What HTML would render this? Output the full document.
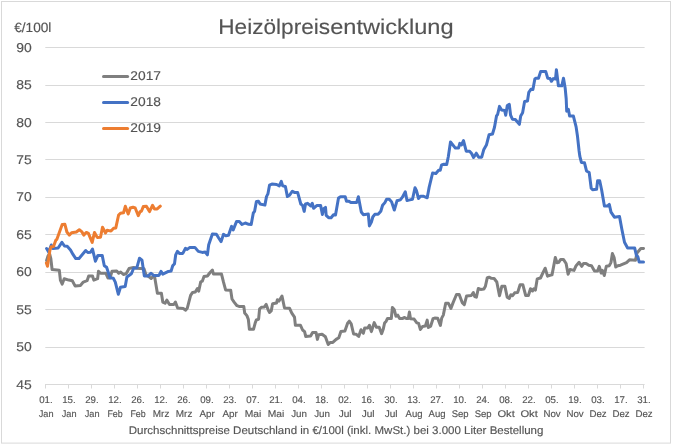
<!DOCTYPE html>
<html><head><meta charset="utf-8"><title>Heizölpreisentwicklung</title>
<style>
html,body{margin:0;padding:0;background:#fff;}
svg{display:block;}
text{font-family:"Liberation Sans",sans-serif;fill:#545454;stroke:#595959;stroke-width:0.15px;text-rendering:geometricPrecision;}
svg{will-change:transform;}
</style></head><body>
<svg width="673" height="446" viewBox="0 0 673 446">
<rect x="0" y="0" width="673" height="446" fill="#fff"/>
<rect x="1.5" y="1.5" width="669" height="441.6" fill="#fff" stroke="#d9d9d9" stroke-width="1"/>

<g stroke="#d9d9d9" stroke-width="1" fill="none">
<line x1="45.3" y1="47.5" x2="644.6" y2="47.5"/>
<line x1="45.3" y1="85.5" x2="644.6" y2="85.5"/>
<line x1="45.3" y1="122.5" x2="644.6" y2="122.5"/>
<line x1="45.3" y1="159.5" x2="644.6" y2="159.5"/>
<line x1="45.3" y1="197.5" x2="644.6" y2="197.5"/>
<line x1="45.3" y1="234.5" x2="644.6" y2="234.5"/>
<line x1="45.3" y1="272.5" x2="644.6" y2="272.5"/>
<line x1="45.3" y1="309.5" x2="644.6" y2="309.5"/>
<line x1="45.3" y1="347.5" x2="644.6" y2="347.5"/>
<line x1="45.3" y1="384.5" x2="644.6" y2="384.5"/>
<line x1="45.5" y1="384" x2="45.5" y2="388.5"/>
<line x1="68.5" y1="384" x2="68.5" y2="388.5"/>
<line x1="91.5" y1="384" x2="91.5" y2="388.5"/>
<line x1="114.5" y1="384" x2="114.5" y2="388.5"/>
<line x1="137.5" y1="384" x2="137.5" y2="388.5"/>
<line x1="160.5" y1="384" x2="160.5" y2="388.5"/>
<line x1="183.5" y1="384" x2="183.5" y2="388.5"/>
<line x1="206.5" y1="384" x2="206.5" y2="388.5"/>
<line x1="229.5" y1="384" x2="229.5" y2="388.5"/>
<line x1="252.5" y1="384" x2="252.5" y2="388.5"/>
<line x1="275.5" y1="384" x2="275.5" y2="388.5"/>
<line x1="298.5" y1="384" x2="298.5" y2="388.5"/>
<line x1="321.5" y1="384" x2="321.5" y2="388.5"/>
<line x1="344.5" y1="384" x2="344.5" y2="388.5"/>
<line x1="367.5" y1="384" x2="367.5" y2="388.5"/>
<line x1="390.5" y1="384" x2="390.5" y2="388.5"/>
<line x1="413.5" y1="384" x2="413.5" y2="388.5"/>
<line x1="436.5" y1="384" x2="436.5" y2="388.5"/>
<line x1="459.5" y1="384" x2="459.5" y2="388.5"/>
<line x1="482.5" y1="384" x2="482.5" y2="388.5"/>
<line x1="505.5" y1="384" x2="505.5" y2="388.5"/>
<line x1="528.5" y1="384" x2="528.5" y2="388.5"/>
<line x1="551.5" y1="384" x2="551.5" y2="388.5"/>
<line x1="574.5" y1="384" x2="574.5" y2="388.5"/>
<line x1="597.5" y1="384" x2="597.5" y2="388.5"/>
<line x1="620.5" y1="384" x2="620.5" y2="388.5"/>
<line x1="643.5" y1="384" x2="643.5" y2="388.5"/>
</g>
<g font-size="12.8px">
<text x="16.3" y="52" textLength="15.5" lengthAdjust="spacingAndGlyphs">90</text>
<text x="16.3" y="89" textLength="15.5" lengthAdjust="spacingAndGlyphs">85</text>
<text x="16.3" y="127" textLength="15.5" lengthAdjust="spacingAndGlyphs">80</text>
<text x="16.3" y="164" textLength="15.5" lengthAdjust="spacingAndGlyphs">75</text>
<text x="16.3" y="201" textLength="15.5" lengthAdjust="spacingAndGlyphs">70</text>
<text x="16.3" y="239" textLength="15.5" lengthAdjust="spacingAndGlyphs">65</text>
<text x="16.3" y="276" textLength="15.5" lengthAdjust="spacingAndGlyphs">60</text>
<text x="16.3" y="314" textLength="15.5" lengthAdjust="spacingAndGlyphs">55</text>
<text x="16.3" y="351" textLength="15.5" lengthAdjust="spacingAndGlyphs">50</text>
<text x="16.3" y="389" textLength="15.5" lengthAdjust="spacingAndGlyphs">45</text>
</g>
<text x="14.2" y="32.4" font-size="13.4px" textLength="37.2" lengthAdjust="spacingAndGlyphs">€/100l</text>
<text x="218.3" y="33.7" font-size="21.4px" fill="#5f5f5f" stroke="none" textLength="111.8" lengthAdjust="spacingAndGlyphs">Heizölpreis</text>
<text x="330.2" y="33.7" font-size="21.4px" fill="#5f5f5f" stroke="none" textLength="123.4" lengthAdjust="spacingAndGlyphs">entwicklung</text>
<g font-size="9.7px" text-anchor="middle">
<text transform="translate(45.9,402.7) scale(1.0,1)">01.</text><text x="46.1" y="416.7" textLength="14.8" lengthAdjust="spacingAndGlyphs">Jan</text>
<text transform="translate(68.9,402.7) scale(1.0,1)">15.</text><text x="69.1" y="416.7" textLength="14.8" lengthAdjust="spacingAndGlyphs">Jan</text>
<text transform="translate(91.9,402.7) scale(1.0,1)">29.</text><text x="92.1" y="416.7" textLength="14.8" lengthAdjust="spacingAndGlyphs">Jan</text>
<text transform="translate(114.9,402.7) scale(1.0,1)">12.</text><text x="115.1" y="416.7" textLength="15.3" lengthAdjust="spacingAndGlyphs">Feb</text>
<text transform="translate(137.9,402.7) scale(1.0,1)">26.</text><text x="138.1" y="416.7" textLength="15.3" lengthAdjust="spacingAndGlyphs">Feb</text>
<text transform="translate(160.9,402.7) scale(1.0,1)">12.</text><text x="161.1" y="416.7" textLength="16.6" lengthAdjust="spacingAndGlyphs">Mrz</text>
<text transform="translate(183.9,402.7) scale(1.0,1)">26.</text><text x="184.1" y="416.7" textLength="16.6" lengthAdjust="spacingAndGlyphs">Mrz</text>
<text transform="translate(206.9,402.7) scale(1.0,1)">09.</text><text x="207.1" y="416.7" textLength="15.4" lengthAdjust="spacingAndGlyphs">Apr</text>
<text transform="translate(229.9,402.7) scale(1.0,1)">23.</text><text x="230.1" y="416.7" textLength="15.4" lengthAdjust="spacingAndGlyphs">Apr</text>
<text transform="translate(252.9,402.7) scale(1.0,1)">07.</text><text x="253.1" y="416.7" textLength="16.6" lengthAdjust="spacingAndGlyphs">Mai</text>
<text transform="translate(275.9,402.7) scale(1.0,1)">21.</text><text x="276.1" y="416.7" textLength="16.6" lengthAdjust="spacingAndGlyphs">Mai</text>
<text transform="translate(298.9,402.7) scale(1.0,1)">04.</text><text x="299.1" y="416.7" textLength="15.8" lengthAdjust="spacingAndGlyphs">Jun</text>
<text transform="translate(321.9,402.7) scale(1.0,1)">18.</text><text x="322.1" y="416.7" textLength="15.8" lengthAdjust="spacingAndGlyphs">Jun</text>
<text transform="translate(344.9,402.7) scale(1.0,1)">02.</text><text x="345.1" y="416.7" textLength="12.9" lengthAdjust="spacingAndGlyphs">Jul</text>
<text transform="translate(367.9,402.7) scale(1.0,1)">16.</text><text x="368.1" y="416.7" textLength="12.9" lengthAdjust="spacingAndGlyphs">Jul</text>
<text transform="translate(390.9,402.7) scale(1.0,1)">30.</text><text x="391.1" y="416.7" textLength="12.9" lengthAdjust="spacingAndGlyphs">Jul</text>
<text transform="translate(413.9,402.7) scale(1.0,1)">13.</text><text x="414.1" y="416.7" textLength="17.0" lengthAdjust="spacingAndGlyphs">Aug</text>
<text transform="translate(436.9,402.7) scale(1.0,1)">27.</text><text x="437.1" y="416.7" textLength="17.0" lengthAdjust="spacingAndGlyphs">Aug</text>
<text transform="translate(459.9,402.7) scale(1.0,1)">10.</text><text x="460.1" y="416.7" textLength="16.9" lengthAdjust="spacingAndGlyphs">Sep</text>
<text transform="translate(482.9,402.7) scale(1.0,1)">24.</text><text x="483.1" y="416.7" textLength="16.9" lengthAdjust="spacingAndGlyphs">Sep</text>
<text transform="translate(505.9,402.7) scale(1.0,1)">08.</text><text x="506.1" y="416.7" textLength="17.4" lengthAdjust="spacingAndGlyphs">Okt</text>
<text transform="translate(528.9,402.7) scale(1.0,1)">22.</text><text x="529.1" y="416.7" textLength="17.4" lengthAdjust="spacingAndGlyphs">Okt</text>
<text transform="translate(551.9,402.7) scale(1.0,1)">05.</text><text x="552.1" y="416.7" textLength="17.2" lengthAdjust="spacingAndGlyphs">Nov</text>
<text transform="translate(574.9,402.7) scale(1.0,1)">19.</text><text x="575.1" y="416.7" textLength="17.2" lengthAdjust="spacingAndGlyphs">Nov</text>
<text transform="translate(597.9,402.7) scale(1.0,1)">03.</text><text x="598.1" y="416.7" textLength="17.2" lengthAdjust="spacingAndGlyphs">Dez</text>
<text transform="translate(620.9,402.7) scale(1.0,1)">17.</text><text x="621.1" y="416.7" textLength="17.2" lengthAdjust="spacingAndGlyphs">Dez</text>
<text transform="translate(643.9,402.7) scale(1.0,1)">31.</text><text x="644.1" y="416.7" textLength="17.2" lengthAdjust="spacingAndGlyphs">Dez</text>
</g>
<text x="128.8" y="434.2" font-size="11.2px" textLength="414.6" lengthAdjust="spacingAndGlyphs">Durchschnittspreise Deutschland in €/100l (inkl. MwSt.) bei 3.000 Liter Bestellung</text>
<g stroke-width="3" stroke-linecap="round" fill="none">
<line x1="103.5" y1="76.5" x2="127.6" y2="76.5" stroke="#7f7f7f"/>
<line x1="103.5" y1="102.5" x2="127.6" y2="102.5" stroke="#4472c4"/>
<line x1="103.5" y1="128.4" x2="127.6" y2="128.4" stroke="#ed7d31"/>
</g>
<g font-size="12.7px">
<text x="130.3" y="80.2" textLength="30.7" lengthAdjust="spacingAndGlyphs">2017</text>
<text x="130.3" y="106.1" textLength="30.7" lengthAdjust="spacingAndGlyphs">2018</text>
<text x="130.3" y="132.0" textLength="30.7" lengthAdjust="spacingAndGlyphs">2019</text>
</g>
<g fill="none" stroke-width="3" stroke-linejoin="round" stroke-linecap="round">
<polyline stroke="#7f7f7f" points="46.6,260.5 48,256 49.5,253.5 50.8,258.3 52.1,269.5 59.3,270.2 60.4,280.1 62.2,284.1 64.2,278.7 68.9,280.1 72.3,280.7 75.2,286.1 80.4,285.4 83.3,282.1 87.1,280.7 88.7,276 92.5,276 93.8,280.1 97.6,278.7 98.5,271.3 100.5,273.3 105.9,273.3 107.9,278 110,278 112,271.3 116.7,271 118.7,273.3 120.7,272 123.4,274.5 126.1,273.8 129.1,268.5 133.5,267.4 137,268.3 140.2,268.5 144,268.8 146,275 148.5,276.3 151.2,278.5 153,276.5 154.7,277.2 157.4,293.3 161.4,293.3 162.8,302.1 165.1,303.2 166.8,300.1 169.5,304.5 173.8,304.5 175.4,302.1 177.6,308.1 183.2,308.5 185.7,310.2 187.3,308.1 190.6,295.4 192.6,292.4 195.3,292 197.4,288.6 198.7,291.1 200.7,281.9 202.3,281.2 204,276.6 207.4,276 210.1,272.5 212.4,270.1 213.5,274.1 221.5,274.1 223.5,282.2 225.6,289.9 230.7,290.3 232,299 234.3,302.4 237,305.7 239,306.4 243.8,306.5 244.7,313 246.9,315.6 248.3,319.2 249.4,329.3 253.5,329.3 255.1,323.3 256.4,319.9 258.6,319.2 259.6,308.8 261.6,307.2 264.2,307.1 266.2,304.4 268.3,310.2 269.6,312.5 271.2,311 272.6,303.7 276.5,303.1 277.4,299.7 279,301.1 282,296.1 284.5,308 289.5,308.2 291.8,313.2 294.5,317.2 295.4,325.3 300.5,325.3 302.6,330 304.6,331.6 305.7,336.4 310.6,336 312.6,332.4 316,332.4 317.4,339.4 318.7,334.7 322.1,334.3 325.4,336.7 328.2,344.5 330.1,342.6 332.8,342.4 336.1,339.4 338.8,337.8 340.9,331.6 344.9,331.1 347.6,323.3 349.3,321.2 351.2,323.9 353.6,334 356.3,334.3 358.7,336.4 361,329.7 363.3,333.3 364.7,328 367.8,328 369.4,325.3 371.4,331.6 374.2,322.6 376.5,327.3 379.2,327.3 381.6,333.7 383.2,329.3 384.6,323 386.2,321.2 387.5,318.5 391.3,318.5 392.4,307.4 394.3,309.8 396,316.3 397.8,315.2 399.6,318.5 402.7,318.4 404.2,317.5 406.8,318.6 408.3,318.4 409.4,312 410.5,318.7 414.1,319.1 416.8,322.8 418.6,323.4 420.4,329.5 422.6,326.4 425.3,326.1 427.2,320.1 428.3,327.5 430.7,326.1 433,318.7 434.7,318.1 437.7,318.3 440.4,325.4 441.7,318.1 443.3,315.1 445.7,303.3 448.4,303.3 450.9,308.4 453.1,302.6 456.5,294.5 459.2,294.5 462.2,302.6 464.3,304.6 466.6,295.9 471.3,295.5 473.3,292.5 474.7,296.5 476.4,297.2 478.3,288.5 480.7,289.4 483.9,289 485.4,286.3 487.3,277.6 489.1,277.2 491.4,278.3 494.1,278.5 496.8,282 499.5,295.7 501.8,286.3 504.9,286.3 507.2,297.1 509.3,298.4 510.9,294.7 512.6,295.7 514.7,292.8 517.7,292.4 520.1,284.7 522.8,284.7 525.7,295.5 528.4,295.5 530.5,288.7 532.5,291 533.8,288.7 535.4,290.1 537.2,278.9 540.5,278 542.6,273.5 545.2,268.2 547.5,276.2 550,275.3 552,274.9 553.7,266.1 555.3,257.4 557,262.8 558.7,262.4 560.7,259.4 563.4,259.4 566.1,263.5 568.1,274.2 570,269.5 574,270.4 576.1,265.7 579.1,262.3 581.8,266.3 583.5,263.4 586.1,263.4 588.8,265.2 591.5,265.7 594.5,271 597.6,271 599.3,266.3 601.2,273.1 602.3,270.4 604.3,275.5 606.3,266.3 609.3,265.7 611,262.3 612.4,253.5 614.1,257.6 615.7,267 617.8,265.7 620.5,265.2 626.5,262.6 629.5,259.8 635.5,260.2 637,253 640.8,248.5 643.5,248.4"/>
<polyline stroke="#4472c4" points="46.6,248.6 48.6,252 51.3,245 52.8,248.5 58.1,248 61.9,242.3 64.5,246 67.2,246.3 70.5,250 73,254.4 75.8,258.6 79,258.5 85.7,250.5 87.8,252.5 90.5,252.2 92.5,249.1 95.4,261.2 97.9,255.4 102.2,255.4 104.3,265.7 106.6,267.3 110,277.8 113.3,278.3 115.3,282.1 118.3,294.2 120.5,287.2 125.2,286.4 126.9,277 131.4,273.8 133.5,268.5 136.8,267.8 139.5,258.2 142,260.2 144.3,275.9 148.3,275.9 150.9,273.2 153.6,275.4 159,275.4 161,271.4 162.8,274.1 168.4,271.4 171.1,271.1 172.7,265.8 174.5,263.7 175.7,254.8 177.4,251.4 179.4,253.4 182.8,253.4 185.5,248.3 187.2,249.4 189.9,247.4 194.9,247.4 198.3,251.4 202.3,252.4 205.2,252.1 207.4,254.8 208.7,244.7 212.4,233.9 216.4,234.3 218.7,238 221.1,241.6 223.5,234.3 225.8,235.7 228.5,235.3 231.6,226.3 233.2,229.9 236.6,221.4 239.3,221.4 242,224.5 245.3,223 248.7,224.3 251.2,224.4 253.3,213 254.6,211.3 256.4,201.6 258.5,201.3 260.1,204 264.9,205.1 266.5,196.6 267.9,193.9 269.5,185.2 271.9,184.1 276.6,184.5 279.3,185.9 281.3,181.4 282.7,185.9 285.4,186.5 287.4,196.6 289.4,195.3 292.4,191.2 294.8,192.6 297.7,192.6 300.8,204 302.6,205.4 304.2,211.4 305.5,204 307.6,203.3 310.9,206 312.3,203.3 313.6,208.3 317,205.4 320.6,205.4 322.4,214.5 323.7,208.7 325.5,207.4 326.2,215.4 328.6,217.7 331.1,217.7 333.5,214.7 335.5,215 338.5,198.1 340.5,196.8 345.2,196.8 346.5,201.2 348.5,201.2 351.2,202.6 356.6,202.6 358.4,196.8 361.3,212 363.3,214.7 368.3,214 369.4,225.9 371.4,222.1 372.8,217 374.8,214.3 378.1,214.3 380.8,211.3 382.6,205.3 384.9,202.6 386.6,199.2 389.3,199.2 391.6,201.9 394.3,210 397,200.8 400.3,199.9 402.4,197.2 405.3,191.8 407,200.5 409.8,199.9 412.5,199.2 415,187.8 416.4,190.4 418.5,198.5 420.5,196.2 423.2,196.2 427.2,197.8 429.2,187.1 432.6,173 435.9,173.4 438.6,170.3 440.2,170.3 441.6,164.9 444,164.2 446.7,164.5 448.3,156.8 450.5,142 455.4,148.1 458.5,148.1 459.8,143.4 461.4,145 463.5,140.6 466.2,151.2 469.6,151.3 471.6,153.5 473.6,157.5 476.3,153.2 478.7,157.2 481.7,157.2 483.7,149.8 486.4,145.1 489.1,134.7 492.5,134 494.5,127.3 496.5,115.9 497.6,114.5 499.5,106.4 501.6,110.1 504.6,110.5 505.7,115.2 507.3,105.5 509.3,104.4 510.6,115.2 512.4,119.2 515.3,119.5 519.4,124.3 520.7,116 522.6,112.8 524.6,101.5 527.5,101 528.8,92.3 530.9,89.3 532.9,89.6 534.9,78.8 536.2,78.2 538.5,78.2 540.7,71.4 545.7,71.4 547.7,78.2 550.1,78.6 551.4,81.3 553.3,78.6 555.5,79.1 556.4,69.7 558.4,85.8 561.8,85.8 563.5,78.2 565.2,88.3 566.2,99 566.7,111.2 568.4,109.4 569.6,116.1 573.4,116.1 576.1,126.9 577.5,136.3 579.1,151 579.8,156.1 581.4,162.4 584.5,162.8 586.5,170.9 589.2,172.6 591.2,188.3 592.6,189.7 596.6,189.3 597.6,180.7 599.7,180.7 601.6,189.7 604.4,205.9 607.4,206.1 609.3,204.4 611,212.1 614.4,217.2 619.5,216.4 621.8,228.9 624.5,242.3 627.6,248 634.7,248.1 636.5,255.8 637.8,256.6 639.2,262 643.5,262"/>
<polyline stroke="#ed7d31" points="46.4,263 47.5,266.3 49.9,250.3 51.2,246.7 53.5,246.6 55.7,240.4 56.8,239.4 62.2,224.6 64.9,224.3 66.9,232 69.3,235.1 71.6,232.7 76.3,232 79.3,229.7 81.7,231.6 83.7,235.1 86.4,232.4 88.4,233.3 92.2,242.4 94.5,232.4 97.2,237.4 100.5,237.2 102.5,227.2 105.5,233 107.1,230.3 111,231.1 113.6,228.3 115.8,227.9 118.6,215 120.4,213.3 123.5,212.8 125.3,206.3 128.2,214 130.3,208 133,207.2 135.2,208 138.3,215.7 140.1,211.6 141.4,211.2 143.3,206.6 146.4,206.2 149.5,211.6 152.5,205.3 154.5,208.9 157.2,208.9 160.3,206.2"/>
</g>
</svg>
</body></html>
